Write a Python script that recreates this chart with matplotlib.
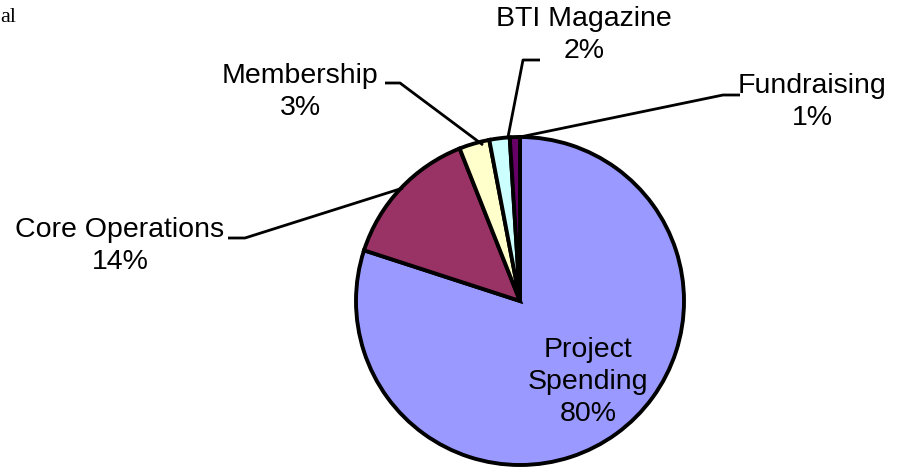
import matplotlib.pyplot as plt

labels = ['Project\nSpending', 'Core Operations', 'Membership', 'BTI Magazine', 'Fundraising']
shares = [80, 14, 3, 2, 1]
colors = ['#9999FF', '#993366', '#FFFFCC', '#CCFFFF', '#660066']

W, H = 910, 472
fig = plt.figure(figsize=(W / 100, H / 100), dpi=100)
ax = fig.add_axes([0, 0, 1, 1])

cx, cy, r = 520, H - 301, 164
wedges, _ = ax.pie(shares, colors=colors, startangle=90, counterclock=False,
                   center=(cx, cy), radius=r, frame=True,
                   wedgeprops=dict(edgecolor='black', linewidth=2.8))
ax.set_xlim(0, W)
ax.set_ylim(0, H)
ax.set_aspect('equal')
ax.axis('off')

font = dict(family='Liberation Sans', fontsize=20.5, color='black', ha='center', va='center',
            linespacing=1.28)

# inside label
ax.text(588, H - 382, f'{labels[0]}\n{shares[0]}%', **font)

# outside labels: text position, leader path (pixels, top-down y)
outside = [
    (1, (120, 246), [(403, 188), (245, 238), (228, 238)]),
    (2, (300, 92), [(483, 145), (400, 83), (385, 83)]),
    (3, (584, 35), [(508, 137), (523, 60), (540, 60)]),
    (4, (812, 102), [(520, 137), (723, 95), (740, 95)]),
]
for i, (tx, ty), path in outside:
    xs = [p[0] for p in path]
    ys = [H - p[1] for p in path]
    ax.plot(xs, ys, color='black', lw=2.0, solid_capstyle='butt')
    ax.text(tx, H - ty, f'{labels[i]}\n{shares[i]}%', **font)

# fragment of a heading at the top-left corner
ax.text(0, H - 18, 'al', family='Liberation Serif', fontsize=16, ha='left', va='center')

fig.savefig('out.png', dpi=100)
